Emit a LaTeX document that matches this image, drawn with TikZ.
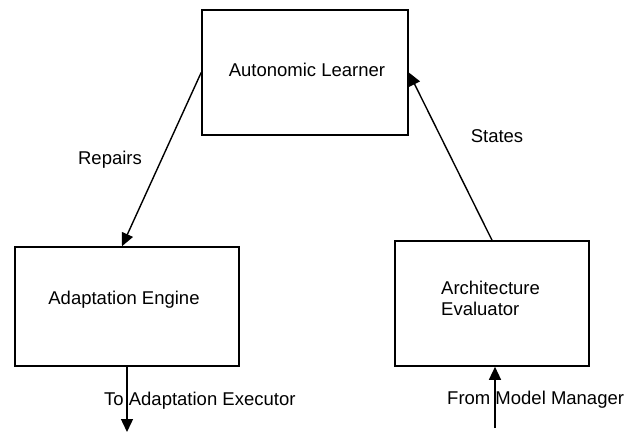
\documentclass[tikz,border=0pt]{standalone}
\usepackage{fontspec}
\setmainfont{Liberation Sans}
\usetikzlibrary{arrows.meta,calc}
\begin{document}
\begin{tikzpicture}[x=1pt,y=-1pt,
  font=\fontsize{18.5}{21.5}\selectfont,
  block/.style={draw=black,line width=1.6pt,rectangle,inner sep=0pt},
  lbl/.style={inner sep=0pt},
  flow/.style={line width=1.4pt,-{Triangle[length=13pt,width=12pt]}}]
  \useasboundingbox (0,0) rectangle (639,434);
  % boxes
  \node[block,minimum width=206pt,minimum height=125pt] (learner) at (305,72.5) {};
  \node[block,minimum width=224pt,minimum height=119pt] (engine) at (127,306.5) {};
  \node[block,minimum width=194pt,minimum height=125pt] (eval) at (492,303.5) {};
  % box texts
  \node[lbl] (learnert) at (307,70) {Autonomic Learner};
  \node[lbl] (enginet) at (124,300) {Adaptation Engine};
  \node[lbl,anchor=west,align=left] (evalt) at (441,298.5) {Architecture\\Evaluator};
  % connectors
  \coordinate (out) at (127,432);
  \coordinate (in) at (495,428);
  \draw[flow] (learner.west) -- ($(engine.north)+(-5,0)$);
  \draw[flow] (eval.north) -- (learner.east);
  \draw[flow] (engine.south) -- (out);
  \draw[flow] (in) -- ($(eval.south)+(3,0)$);
  % connector labels
  \node[lbl] (repairs) at (110,160) {Repairs};
  \node[lbl] (states) at (497,136) {States};
  \node[lbl,anchor=west] (toexec) at (104,401) {To Adaptation Executor};
  \node[lbl,anchor=west] (frommm) at (447,400) {From Model Manager};
\end{tikzpicture}
\end{document}
